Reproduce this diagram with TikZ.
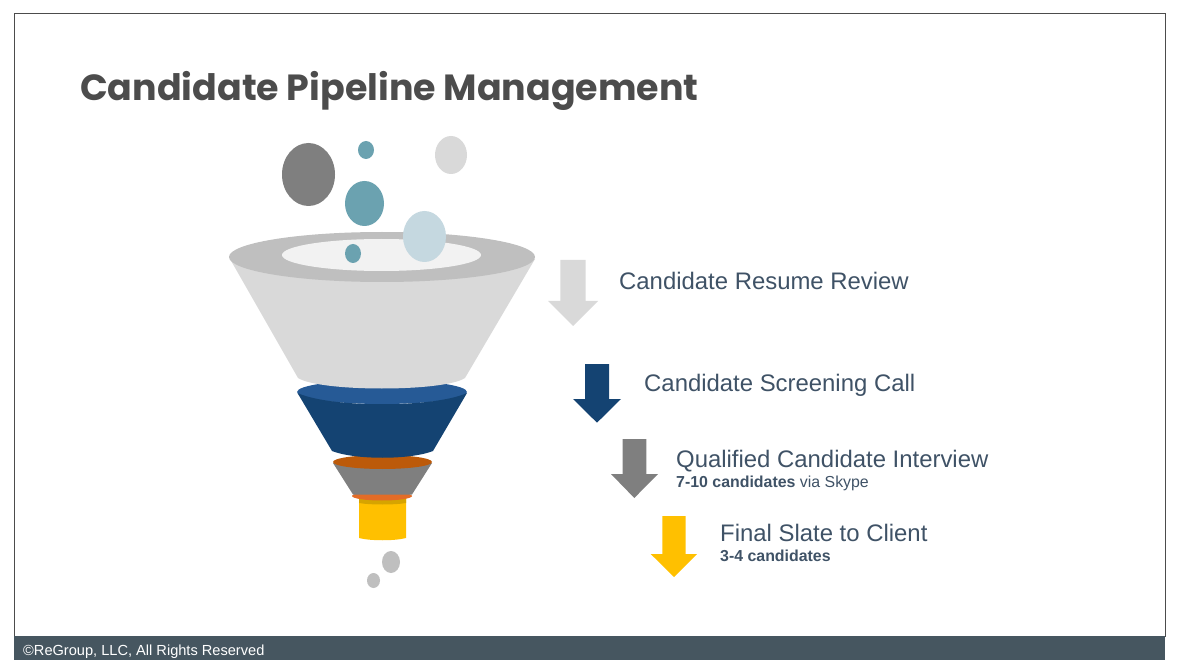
\documentclass[tikz,border=0pt]{standalone}
\usepackage{fontspec}
\setmainfont{Liberation Sans}
\newfontfamily\titlefont{Poppins}[BoldFont={* Bold}]
\definecolor{stepgray}{HTML}{D9D9D9}
\definecolor{rimgray}{HTML}{BFBFBF}
\definecolor{holegray}{HTML}{F2F2F2}
\definecolor{darkgray}{HTML}{7F7F7F}
\definecolor{teal}{HTML}{6BA2B0}
\definecolor{paleblue}{HTML}{C5D8E0}
\definecolor{stepblue}{HTML}{144372}
\definecolor{rimblue}{HTML}{265A96}
\definecolor{rimbrown}{HTML}{BC5A0A}
\definecolor{rimorange}{HTML}{E36C27}
\definecolor{stepyellow}{HTML}{FFC000}
\definecolor{rimyellow}{HTML}{D6A400}
\definecolor{textblue}{HTML}{3F5266}
\definecolor{barslate}{HTML}{465660}
\tikzset{
	steplabel/.style={anchor=base west,inner sep=0pt,text=textblue,font=\fontsize{23.9}{24}\selectfont},
	sublabel/.style={anchor=base west,inner sep=0pt,text=textblue,font=\fontsize{15.9}{16}\selectfont}
}
\begin{document}
\begin{tikzpicture}[x=1pt,y=-1pt]
\useasboundingbox (0,0) rectangle (1179,663);

%% Frame and footer bar
\draw[black!70,line width=.8pt] (14,13) rectangle (1165,636);
\fill[barslate] (14,636) rectangle (1165,660);
\node[anchor=base west,inner sep=0pt,text=white,font=\fontsize{14.6}{15}\selectfont] (footer) at (23,655) {©ReGroup, LLC, All Rights Reserved};

% TITLE
\node[anchor=base west,inner sep=0pt,text=black!70,font=\titlefont\bfseries\fontsize{36.4}{37}\selectfont] (title) at (80,101) {Candidate Pipeline Management};

% ORANGE RING, YELLOW SPOUT
\fill[stepyellow] (359,498) -- (359,538) .. controls (370,541) and (395,541) .. (406,538) -- (406,498) -- cycle;
\fill[rimyellow] (359,498) -- (359,503) .. controls (370,505) and (395,505) .. (406,503) -- (406,498) -- cycle;
\fill[rimorange] (382,496) ellipse (30 and 4.5);

% GRAY FUNNEL
\fill[darkgray] (333,463) -- (353,494.5) -- (412,494.5) -- (432,463) -- cycle;
\fill[rimbrown] (382.5,462) ellipse (49.5 and 7);

% BLUE FUNNEL
\fill[rimblue] (382,392) ellipse (85 and 12);
\fill[stepblue] (297.5,393) .. controls (330,408) and (434,408) .. (467,393) -- (433,451) .. controls (410,460) and (355,460) .. (332,451) -- cycle;

% TOP FUNNEL
\fill[stepgray] (230,259) -- (298,378) .. controls (320,392) and (444,392) .. (465,378) -- (535,259) -- cycle;
\fill[rimgray] (382,257) ellipse (153 and 25);
\fill[holegray] (381.5,255) ellipse (99.5 and 16);

% BALLS ABOVE
\fill[darkgray] (308.5,174.5) ellipse (26.5 and 31.5);
\fill[teal] (366,150) ellipse (8 and 9);
\fill[stepgray] (451,155) ellipse (16 and 19);
\fill[teal] (364.5,203.5) ellipse (19.5 and 22.5);
\fill[paleblue] (424.5,236.5) ellipse (21.5 and 25.5);
\fill[teal] (353,253.5) ellipse (8 and 9.5);

% BALLS BELOW
\fill[rimgray] (391,562) ellipse (9 and 11);
\fill[rimgray] (373.5,580.5) ellipse (6.5 and 7.5);

% RESUME REVIEW
\fill[stepgray] (560.3,260) -- (585.7,260) -- (585.7,301) -- (598,301) -- (573,326) -- (548,301) -- (560.3,301) -- cycle;
\node[steplabel] (resume) at (619,290) {Candidate Resume Review};

% SCREENING CALL
\fill[stepblue] (585,364) -- (609,364) -- (609,399) -- (621,399) -- (597,422.7) -- (573,399) -- (585,399) -- cycle;
\node[steplabel] (screening) at (644,391) {Candidate Screening Call};

% INTERVIEW
\fill[darkgray] (622.7,439) -- (646.3,439) -- (646.3,474) -- (658,474) -- (634.3,498) -- (611,474) -- (622.7,474) -- cycle;
\node[steplabel] (interview) at (676,467) {Qualified Candidate Interview};
\node[sublabel] (interviewsub) at (676,487) {\textbf{7-10 candidates} via Skype};

% FINAL SLATE
\fill[stepyellow] (662.3,516) -- (685.7,516) -- (685.7,554) -- (697,554) -- (674,577) -- (650.7,554) -- (662.3,554) -- cycle;
\node[steplabel] (slate) at (720,541) {Final Slate to Client};
\node[sublabel] (slatesub) at (720,561) {\textbf{3-4 candidates}};
\end{tikzpicture}
\end{document}
